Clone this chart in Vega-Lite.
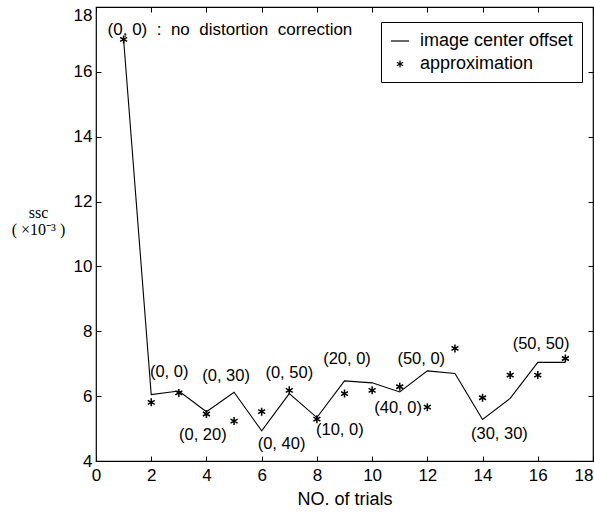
{
  "$schema": "https://vega.github.io/schema/vega-lite/v6.json",
  "width": 497,
  "height": 454,
  "autosize": "none",
  "padding": {"left": 96, "top": 7, "right": 1, "bottom": 59},
  "background": "white",
  "config": {
    "view": {"stroke": "black", "strokeWidth": 1.2},
    "font": "Liberation Sans",
    "axis": {
      "domain": false,
      "grid": false,
      "tickColor": "black",
      "tickSize": -5,
      "tickWidth": 1,
      "labelColor": "black",
      "labelFontSize": 17,
      "labelFont": "Liberation Sans",
      "titleFont": "Liberation Sans",
      "titleColor": "black",
      "titleFontWeight": "normal"
    }
  },
  "datasets": {
    "offset": [
      {"trial": 1, "ssc": 17.0},
      {"trial": 2, "ssc": 6.05},
      {"trial": 3, "ssc": 6.16},
      {"trial": 4, "ssc": 5.52},
      {"trial": 5, "ssc": 6.12},
      {"trial": 6, "ssc": 4.93},
      {"trial": 7, "ssc": 6.08},
      {"trial": 8, "ssc": 5.34},
      {"trial": 9, "ssc": 6.47},
      {"trial": 10, "ssc": 6.41},
      {"trial": 11, "ssc": 6.13},
      {"trial": 12, "ssc": 6.78},
      {"trial": 13, "ssc": 6.70},
      {"trial": 14, "ssc": 5.28},
      {"trial": 15, "ssc": 5.93},
      {"trial": 16, "ssc": 7.04},
      {"trial": 17, "ssc": 7.04}
    ],
    "approx": [
      {"trial": 1, "ssc": 17.0, "series": "approximation"},
      {"trial": 2, "ssc": 5.81, "series": "approximation"},
      {"trial": 3, "ssc": 6.10, "series": "approximation"},
      {"trial": 4, "ssc": 5.45, "series": "approximation"},
      {"trial": 5, "ssc": 5.23, "series": "approximation"},
      {"trial": 6, "ssc": 5.52, "series": "approximation"},
      {"trial": 7, "ssc": 6.18, "series": "approximation"},
      {"trial": 8, "ssc": 5.29, "series": "approximation"},
      {"trial": 9, "ssc": 6.08, "series": "approximation"},
      {"trial": 10, "ssc": 6.18, "series": "approximation"},
      {"trial": 11, "ssc": 6.29, "series": "approximation"},
      {"trial": 12, "ssc": 5.66, "series": "approximation"},
      {"trial": 13, "ssc": 7.47, "series": "approximation"},
      {"trial": 14, "ssc": 5.95, "series": "approximation"},
      {"trial": 15, "ssc": 6.65, "series": "approximation"},
      {"trial": 16, "ssc": 6.65, "series": "approximation"},
      {"trial": 17, "ssc": 7.16, "series": "approximation"}
    ],
    "labels": [
      {"x": 2.65, "y": 6.75, "label": "(0, 0)"},
      {"x": 4.71, "y": 6.62, "label": "(0, 30)"},
      {"x": 3.87, "y": 4.80, "label": "(0, 20)"},
      {"x": 6.72, "y": 4.52, "label": "(0, 40)"},
      {"x": 7.0, "y": 6.72, "label": "(0, 50)"},
      {"x": 8.83, "y": 4.95, "label": "(10, 0)"},
      {"x": 9.09, "y": 7.13, "label": "(20, 0)"},
      {"x": 10.94, "y": 5.62, "label": "(40, 0)"},
      {"x": 11.78, "y": 7.16, "label": "(50, 0)"},
      {"x": 14.61, "y": 4.83, "label": "(30, 30)"},
      {"x": 16.12, "y": 7.62, "label": "(50, 50)"}
    ],
    "note": [
      {"x": 0.42, "y": 17.29, "label": "(0, 0)\u00a0 :\u00a0 no\u00a0 distortion\u00a0 correction"}
    ]
  },
  "layer": [
    {
      "data": {"name": "offset"},
      "mark": {"type": "line", "color": "black", "strokeWidth": 1.1},
      "encoding": {
        "x": {
          "field": "trial", "type": "quantitative",
          "scale": {"domain": [0, 18], "nice": false},
          "axis": {
            "orient": "bottom",
            "values": [0, 2, 4, 6, 8, 10, 12, 14, 16, 18],
            "title": "NO. of trials",
            "titleFontSize": 18,
            "titlePadding": 7,
            "labelPadding": 11,
            "labelAlign": {"condition": {"test": "datum.value === 18", "value": "right"}, "value": "center"}
          }
        },
        "y": {
          "field": "ssc", "type": "quantitative",
          "scale": {"domain": [4, 18], "nice": false},
          "axis": {
            "orient": "left",
            "values": [4, 6, 8, 10, 12, 14, 16, 18],
            "labelPadding": 9,
            "labelBaseline": {"condition": {"test": "datum.value === 18", "value": "top"}, "value": "middle"},
            "title": ["ssc", "( ×10⁻³ )"],
            "titleAngle": 0,
            "titleX": -58,
            "titleY": 205,
            "titleAlign": "center",
            "titleBaseline": "middle",
            "titleFont": "Liberation Serif",
            "titleFontSize": 16,
            "titleLineHeight": 17
          }
        }
      }
    },
    {
      "data": {"name": "approx"},
      "mark": {"type": "point", "filled": false, "color": "black", "strokeWidth": 1.5, "size": 400, "opacity": 1},
      "encoding": {
        "x": {
          "field": "trial", "type": "quantitative",
          "axis": {"orient": "top", "values": [0, 2, 4, 6, 8, 10, 12, 14, 16, 18], "labels": false, "title": null}
        },
        "y": {
          "field": "ssc", "type": "quantitative",
          "axis": {"orient": "right", "values": [4, 6, 8, 10, 12, 14, 16, 18], "labels": false, "title": null}
        },
        "shape": {
          "field": "series", "type": "nominal",
          "scale": {
            "domain": ["image center offset", "approximation"],
            "range": ["M-1,0H1", "M0,-0.4V0.4M-0.35,-0.2L0.35,0.2M-0.35,0.2L0.35,-0.2"]
          },
          "legend": {
            "title": null,
            "orient": "none",
            "legendX": 285,
            "legendY": 15,
            "strokeColor": "black",
            "fillColor": "white",
            "padding": 9,
            "symbolSize": 324,
            "symbolStrokeColor": "black",
            "symbolStrokeWidth": 1.2,
            "symbolFillColor": "transparent",
            "labelFontSize": 18,
            "labelFont": "Liberation Sans",
            "labelColor": "black",
            "labelOffset": 10,
            "rowPadding": 4
          }
        }
      }
    },
    {
      "data": {"name": "labels"},
      "mark": {"type": "text", "fontSize": 16.5, "font": "Liberation Sans", "color": "black", "align": "center", "baseline": "middle"},
      "encoding": {
        "x": {"field": "x", "type": "quantitative", "axis": null},
        "y": {"field": "y", "type": "quantitative", "axis": null},
        "text": {"field": "label"}
      }
    },
    {
      "data": {"name": "note"},
      "mark": {"type": "text", "fontSize": 17, "font": "Liberation Sans", "color": "black", "align": "left", "baseline": "middle"},
      "encoding": {
        "x": {"field": "x", "type": "quantitative", "axis": null},
        "y": {"field": "y", "type": "quantitative", "axis": null},
        "text": {"field": "label"}
      }
    }
  ],
  "resolve": {"axis": {"x": "independent", "y": "independent"}}
}
